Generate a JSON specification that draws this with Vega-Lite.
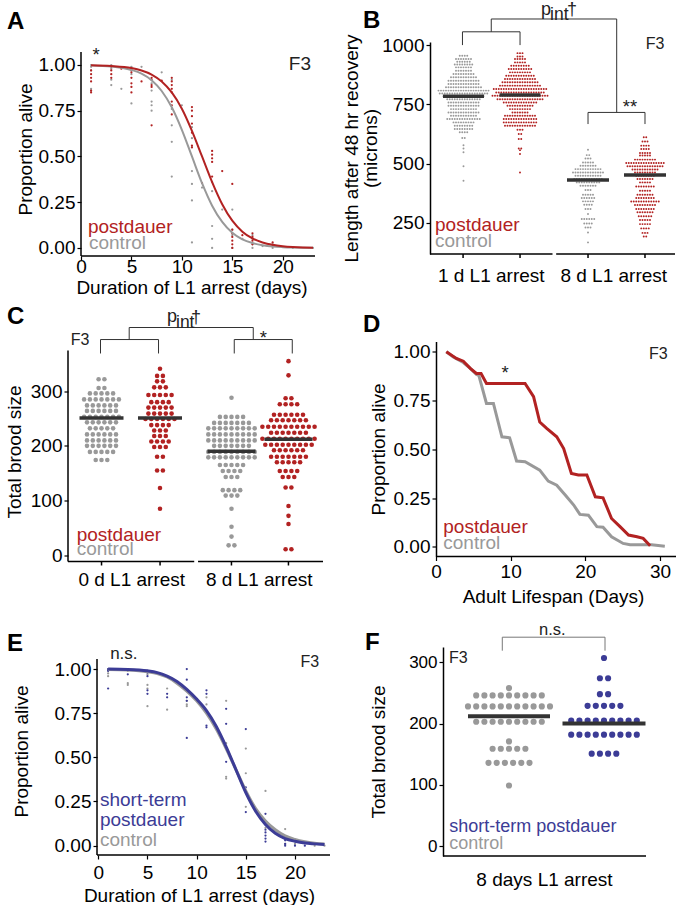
{
"$schema": "https://vega.github.io/schema/vega-lite/v6.json",
"padding": {"left": 5, "top": 0, "right": 0, "bottom": 0},
"config": {
  "view": {"stroke": null},
  "font": "Liberation Sans",
  "axis": {"grid": false, "domainColor": "#000", "domainWidth": 1.5, "tickColor": "#000", "tickWidth": 1.2, "tickSize": 4, "labelFontSize": 19, "titleFontSize": 19, "labelColor": "#000", "titleColor": "#000", "titleFontWeight": "normal", "labelPadding": 2, "labelFlush": false, "labelOverlap": false, "labelFont": "Liberation Sans", "titleFont": "Liberation Sans"},
  "text": {"font": "Liberation Sans"}
},
"columns": 2,
"spacing": {"row": 85.5, "column": 100},
"bounds": "flush",
"align": "each",
"concat": [
 {
  "width": 247, "height": 214,
  "encoding": {
    "x": {"field": "day", "type": "quantitative", "scale": {"domain": [-1.289, 23.2], "nice": false, "zero": false}, "axis": {"title": "Duration of L1 arrest (days)", "values": [0,5,10,15,20], "domain": false, "labelPadding": -3, "titlePadding": 2}},
    "y": {"field": "p", "type": "quantitative", "scale": {"domain": [-0.044, 1.1257], "nice": false, "zero": false}, "axis": {"title": "Proportion alive", "values": [0,0.25,0.5,0.75,1], "format": ".2f", "domain": false, "offset": -13, "titlePadding": 3}},
    "color": {"field": "grp", "type": "nominal", "scale": {"domain": ["control","postdauer","short-term","annot"], "range": ["#999999","#B22222","#3C3C96","#222222"]}, "legend": null}
  },
  "layer": [
    {"data": {"values": [{"day":0,"day2":0,"p":-0.044,"p2":1.071},{"day":0,"day2":23.2,"p":-0.044,"p2":-0.044}]},
     "mark": {"type": "rule", "strokeWidth": 1.5}, "encoding": {"x2": {"field": "day2"}, "y2": {"field": "p2"}, "color": {"value": "#000"}}},
    {"data": {"values": [
      {"grp":"control","day":1,"p":1.0},{"grp":"control","day":1,"p":0.99},{"grp":"control","day":1,"p":0.97},{"grp":"control","day":1,"p":0.87},{"grp":"control","day":1,"p":0.86},
      {"grp":"control","day":3,"p":1.0},{"grp":"control","day":3,"p":0.98},{"grp":"control","day":3,"p":0.92},{"grp":"control","day":3,"p":0.89},
      {"grp":"control","day":4,"p":0.87},
      {"grp":"control","day":5,"p":0.99},{"grp":"control","day":5,"p":0.97},{"grp":"control","day":5,"p":0.95},{"grp":"control","day":5,"p":0.79},
      {"grp":"control","day":6,"p":0.99},
      {"grp":"control","day":7,"p":0.9},{"grp":"control","day":7,"p":0.86},{"grp":"control","day":7,"p":0.8},{"grp":"control","day":7,"p":0.78},{"grp":"control","day":7,"p":0.75},
      {"grp":"control","day":8,"p":0.96},
      {"grp":"control","day":9,"p":0.92},{"grp":"control","day":9,"p":0.76},{"grp":"control","day":9,"p":0.67},{"grp":"control","day":9,"p":0.58},{"grp":"control","day":9,"p":0.39},
      {"grp":"control","day":10,"p":0.78},
      {"grp":"control","day":11,"p":0.66},{"grp":"control","day":11,"p":0.6},{"grp":"control","day":11,"p":0.55},{"grp":"control","day":11,"p":0.42},{"grp":"control","day":11,"p":0.35},{"grp":"control","day":11,"p":0.26},{"grp":"control","day":11,"p":0.03},
      {"grp":"control","day":12,"p":0.33},
      {"grp":"control","day":13,"p":0.36},{"grp":"control","day":13,"p":0.31},{"grp":"control","day":13,"p":0.12},{"grp":"control","day":13,"p":0.05},{"grp":"control","day":13,"p":0.0},
      {"grp":"control","day":14,"p":0.21},
      {"grp":"control","day":15,"p":0.21},{"grp":"control","day":15,"p":0.1},{"grp":"control","day":15,"p":0.07},{"grp":"control","day":15,"p":0.0},
      {"grp":"control","day":16,"p":0.05},
      {"grp":"control","day":17,"p":0.07},{"grp":"control","day":17,"p":0.05},{"grp":"control","day":17,"p":0.02},{"grp":"control","day":17,"p":0.0},
      {"grp":"control","day":18,"p":0.01},
      {"grp":"control","day":19,"p":0.02},{"grp":"control","day":19,"p":0.0},
      {"grp":"control","day":21,"p":0.0},{"grp":"control","day":23,"p":0.0},
      {"grp":"postdauer","day":1,"p":0.97},{"grp":"postdauer","day":1,"p":0.95},{"grp":"postdauer","day":1,"p":0.93},{"grp":"postdauer","day":1,"p":0.91},{"grp":"postdauer","day":1,"p":0.86},{"grp":"postdauer","day":1,"p":0.85},
      {"grp":"postdauer","day":3,"p":0.99},{"grp":"postdauer","day":3,"p":0.97},{"grp":"postdauer","day":3,"p":0.95},{"grp":"postdauer","day":3,"p":0.93},
      {"grp":"postdauer","day":4,"p":0.98},
      {"grp":"postdauer","day":5,"p":0.98},{"grp":"postdauer","day":5,"p":0.96},{"grp":"postdauer","day":5,"p":0.93},{"grp":"postdauer","day":5,"p":0.9},{"grp":"postdauer","day":5,"p":0.88},{"grp":"postdauer","day":5,"p":0.85},
      {"grp":"postdauer","day":6,"p":0.91},
      {"grp":"postdauer","day":7,"p":0.93},{"grp":"postdauer","day":7,"p":0.92},{"grp":"postdauer","day":7,"p":0.89},{"grp":"postdauer","day":7,"p":0.88},{"grp":"postdauer","day":7,"p":0.67},
      {"grp":"postdauer","day":8,"p":0.915},
      {"grp":"postdauer","day":9,"p":0.93},{"grp":"postdauer","day":9,"p":0.91},{"grp":"postdauer","day":9,"p":0.89},{"grp":"postdauer","day":9,"p":0.87},{"grp":"postdauer","day":9,"p":0.85},{"grp":"postdauer","day":9,"p":0.8},{"grp":"postdauer","day":9,"p":0.78},{"grp":"postdauer","day":9,"p":0.73},
      {"grp":"postdauer","day":11,"p":0.77},{"grp":"postdauer","day":11,"p":0.75},{"grp":"postdauer","day":11,"p":0.72},{"grp":"postdauer","day":11,"p":0.68},{"grp":"postdauer","day":11,"p":0.63},{"grp":"postdauer","day":11,"p":0.56},{"grp":"postdauer","day":11,"p":0.55},
      {"grp":"postdauer","day":12,"p":0.355},
      {"grp":"postdauer","day":13,"p":0.53},{"grp":"postdauer","day":13,"p":0.51},{"grp":"postdauer","day":13,"p":0.49},{"grp":"postdauer","day":13,"p":0.47},{"grp":"postdauer","day":13,"p":0.39},
      {"grp":"postdauer","day":14,"p":0.42},
      {"grp":"postdauer","day":15,"p":0.35},{"grp":"postdauer","day":15,"p":0.1},{"grp":"postdauer","day":15,"p":0.08},{"grp":"postdauer","day":15,"p":0.06},{"grp":"postdauer","day":15,"p":0.04},{"grp":"postdauer","day":15,"p":0.02},{"grp":"postdauer","day":15,"p":0.0},
      {"grp":"postdauer","day":16,"p":0.07},
      {"grp":"postdauer","day":17,"p":0.08},{"grp":"postdauer","day":17,"p":0.06},{"grp":"postdauer","day":17,"p":0.04},{"grp":"postdauer","day":17,"p":0.02},
      {"grp":"postdauer","day":19,"p":0.03},{"grp":"postdauer","day":19,"p":0.01}
    ]}, "mark": {"type": "circle", "size": 5, "opacity": 1}},
    {"data": {"values": [
      {"grp":"control","day":1,"p":0.9975},{"grp":"control","day":3,"p":0.992},{"grp":"control","day":5,"p":0.973},{"grp":"control","day":6,"p":0.953},{"grp":"control","day":7,"p":0.917},{"grp":"control","day":8,"p":0.858},{"grp":"control","day":9,"p":0.769},{"grp":"control","day":10,"p":0.646},{"grp":"control","day":11,"p":0.5},{"grp":"control","day":12,"p":0.354},{"grp":"control","day":13,"p":0.231},{"grp":"control","day":14,"p":0.142},{"grp":"control","day":15,"p":0.083},{"grp":"control","day":16,"p":0.047},{"grp":"control","day":17,"p":0.027},{"grp":"control","day":18,"p":0.015},{"grp":"control","day":19,"p":0.008},{"grp":"control","day":20,"p":0.0045},{"grp":"control","day":21,"p":0.0025},{"grp":"control","day":22,"p":0.0014},{"grp":"control","day":23,"p":0.0007},
      {"grp":"postdauer","day":1,"p":0.998},{"grp":"postdauer","day":3,"p":0.994},{"grp":"postdauer","day":5,"p":0.983},{"grp":"postdauer","day":6,"p":0.97},{"grp":"postdauer","day":7,"p":0.948},{"grp":"postdauer","day":8,"p":0.91},{"grp":"postdauer","day":9,"p":0.85},{"grp":"postdauer","day":10,"p":0.761},{"grp":"postdauer","day":11,"p":0.64},{"grp":"postdauer","day":12,"p":0.5},{"grp":"postdauer","day":13,"p":0.36},{"grp":"postdauer","day":14,"p":0.239},{"grp":"postdauer","day":15,"p":0.149},{"grp":"postdauer","day":16,"p":0.089},{"grp":"postdauer","day":17,"p":0.052},{"grp":"postdauer","day":18,"p":0.03},{"grp":"postdauer","day":19,"p":0.017},{"grp":"postdauer","day":20,"p":0.0096},{"grp":"postdauer","day":21,"p":0.0054},{"grp":"postdauer","day":22,"p":0.003},{"grp":"postdauer","day":23,"p":0.0017}
    ]}, "mark": {"type": "line", "strokeWidth": 2, "interpolate": "monotone"}},
    {"data": {"values": [{"day":0.69,"p":0.082,"t":"postdauer","grp":"postdauer"},{"day":0.79,"p":-0.005,"t":"control","grp":"control"}]},
     "mark": {"type": "text", "align": "left", "baseline": "alphabetic", "fontSize": 19}, "encoding": {"text": {"field": "t"}}},
    {"data": {"values": [{"day":1.5,"p":1.052,"t":"*","kind":"sig","grp":"annot"},{"day":21.7,"p":1.005,"t":"F3","kind":"tag","grp":"annot"}]},
     "mark": {"type": "text", "align": "center", "baseline": "middle"}, "encoding": {"text": {"field": "t"}, "size": {"field": "kind", "type": "nominal", "scale": {"domain": ["tag","sig","p","sub","ns","nsS","tagS"], "range": [19,16,17,11,15,12,17]}, "legend": null}}},
    {"data": {"values": [{"day":-7.337,"p":1.1968,"t":"A"}]},
     "mark": {"type": "text", "align": "left", "baseline": "alphabetic", "fontSize": 24, "fontWeight": "bold"}, "encoding": {"text": {"field": "t"}, "color": {"value": "#000"}}}
  ]
 },
 {
  "width": 245, "height": 212,
  "resolve": {"scale": {"x": "independent", "xOffset": "independent"}},
  "encoding": {
    "y": {"field": "data", "type": "quantitative", "scale": {"domain": [119, 1013], "nice": false, "zero": false}, "axis": {"title": ["Length after 48 hr recovery", "(microns)"], "values": [250,500,750,1000], "format": "d", "titlePadding": 1, "titleLineHeight": 19}}
  },
  "layer": [
    {"data": {"values": [955,955,955,955,941,941,941,941,941,941,941,930,930,930,930,930,930,918,918,918,918,918,918,918,918,906,906,906,906,906,906,906,892,892,892,892,892,892,892,878,878,878,878,878,878,878,878,878,864,864,864,864,864,864,864,864,864,864,864,850,850,850,850,850,850,850,850,850,850,850,850,850,836,836,836,836,836,836,836,836,836,836,836,836,836,822,822,822,822,822,822,822,822,822,822,822,822,822,822,822,808,808,808,808,808,808,808,808,808,808,808,808,808,808,808,808,808,808,808,808,808,796,796,796,796,796,796,796,796,796,796,796,796,796,796,796,796,796,796,796,796,784,784,784,784,784,784,784,784,784,784,784,784,784,784,784,784,784,772,772,772,772,772,772,772,772,772,772,772,772,772,772,758,758,758,758,758,758,758,758,758,758,758,758,758,744,744,744,744,744,744,744,744,744,744,744,744,744,730,730,730,730,730,730,730,730,730,730,730,716,716,716,716,716,716,716,716,716,716,716,716,716,702,702,702,702,702,702,702,702,702,702,702,688,688,688,688,688,688,688,688,688,688,688,688,688,688,674,674,674,674,674,674,674,674,674,660,660,660,660,660,660,660,660,646,646,646,646,646,646,646,646,632,632,632,632,608,608,578,564,548,489,428]},
     "transform": [{"joinaggregate": [{"op": "distinct", "field": "data", "as": "one"}], "groupby": ["data"]}, {"stack": "one", "groupby": ["data"], "offset": "center", "as": ["s0","s1"]}],
     "mark": {"type": "circle", "size": 3.8, "color": "#999999", "opacity": 1},
     "encoding": {
       "x": {"datum": "1 d L1 arrest", "type": "nominal", "scale": {"type": "band", "domain": ["1 d L1 arrest","8 d L1 arrest"], "paddingInner": 0, "paddingOuter": 0}, "axis": {"title": null, "ticks": false, "domain": false, "labelPadding": 12, "labelAngle": 0}},
       "xOffset": {"field": "s0", "type": "quantitative", "scale": {"domain": [-3.4, 45.6], "nice": false, "zero": false}}
     }},
    {"data": {"values": [{"data": 784}]}, "mark": {"type": "tick", "size": 41, "thickness": 3.5, "color": "#333333", "opacity": 1},
     "encoding": {
       "x": {"datum": "1 d L1 arrest", "type": "nominal", "scale": {"type": "band", "domain": ["1 d L1 arrest","8 d L1 arrest"], "paddingInner": 0, "paddingOuter": 0}, "axis": null},
       "xOffset": {"datum": -0.5, "type": "quantitative", "scale": {"domain": [-13.9, 35.1], "nice": false, "zero": false}}
     }},
    {"data": {"values": [966,966,966,952,952,952,941,941,941,941,941,927,927,927,927,927,913,913,913,913,913,913,913,913,899,899,899,899,899,899,899,899,899,899,885,885,885,885,885,885,885,885,885,871,871,871,871,871,871,871,871,871,871,871,871,857,857,857,857,857,857,857,857,857,857,857,857,857,843,843,843,843,843,843,843,843,843,843,843,843,843,843,843,829,829,829,829,829,829,829,829,829,829,829,829,829,829,829,829,829,815,815,815,815,815,815,815,815,815,815,815,815,815,815,815,815,815,815,815,815,815,815,800,800,800,800,800,800,800,800,800,800,800,800,800,800,800,800,800,800,800,800,786,786,786,786,786,786,786,786,786,786,786,786,786,786,786,786,786,786,786,786,786,786,786,772,772,772,772,772,772,772,772,772,772,772,772,772,772,772,772,772,772,772,758,758,758,758,758,758,758,758,758,758,758,758,758,758,744,744,744,744,744,744,744,744,744,744,744,730,730,730,730,730,730,730,730,730,716,716,716,716,716,716,716,702,702,702,702,702,702,702,702,702,702,702,702,702,688,688,688,688,688,688,688,688,688,688,688,688,688,688,674,674,674,674,674,674,674,674,674,674,674,674,674,674,660,660,660,660,660,660,660,660,660,660,660,660,660,643,643,643,625,625,604,604,564,564,557,541,463]},
     "transform": [{"joinaggregate": [{"op": "distinct", "field": "data", "as": "one"}], "groupby": ["data"]}, {"stack": "one", "groupby": ["data"], "offset": "center", "as": ["s0","s1"]}],
     "mark": {"type": "circle", "size": 3.8, "color": "#B22222", "opacity": 1},
     "encoding": {
       "x": {"datum": "1 d L1 arrest", "type": "nominal", "scale": {"type": "band", "domain": ["1 d L1 arrest","8 d L1 arrest"], "paddingInner": 0, "paddingOuter": 0}, "axis": null},
       "xOffset": {"field": "s0", "type": "quantitative", "scale": {"domain": [-25, 24], "nice": false, "zero": false}}
     }},
    {"data": {"values": [{"data": 789}]}, "mark": {"type": "tick", "size": 41, "thickness": 3.5, "color": "#333333", "opacity": 1},
     "encoding": {
       "x": {"datum": "1 d L1 arrest", "type": "nominal", "scale": {"type": "band", "domain": ["1 d L1 arrest","8 d L1 arrest"], "paddingInner": 0, "paddingOuter": 0}, "axis": null},
       "xOffset": {"datum": -0.5, "type": "quantitative", "scale": {"domain": [-36.5, 12.5], "nice": false, "zero": false}}
     }},
    {"data": {"values": [559,536,536,522,522,522,505,505,505,505,505,491,491,491,491,491,491,491,477,477,477,477,477,477,477,477,477,477,477,463,463,463,463,463,463,463,463,463,463,463,463,463,449,449,449,449,449,449,449,449,449,449,449,435,435,435,435,435,435,435,435,435,435,435,435,421,421,421,421,421,421,421,421,421,421,407,407,407,407,407,407,407,389,389,389,369,369,369,369,369,355,355,355,355,355,355,341,341,341,341,341,327,327,327,327,309,309,309,288,267,267,267,267,267,267,248,248,248,248,231,231,231,210,168]},
     "transform": [{"joinaggregate": [{"op": "distinct", "field": "data", "as": "one"}], "groupby": ["data"]}, {"stack": "one", "groupby": ["data"], "offset": "center", "as": ["s0","s1"]}],
     "mark": {"type": "circle", "size": 3.8, "color": "#999999", "opacity": 1},
     "encoding": {
       "x": {"datum": "8 d L1 arrest", "type": "nominal", "scale": {"type": "band", "domain": ["1 d L1 arrest","8 d L1 arrest"], "paddingInner": 0, "paddingOuter": 0}, "axis": null},
       "xOffset": {"field": "s0", "type": "quantitative", "scale": {"domain": [-8.2, 40.8], "nice": false, "zero": false}}
     }},
    {"data": {"values": [{"data": 431}]}, "mark": {"type": "tick", "size": 42, "thickness": 3.5, "color": "#333333", "opacity": 1},
     "encoding": {
       "x": {"datum": "8 d L1 arrest", "type": "nominal", "scale": {"type": "band", "domain": ["1 d L1 arrest","8 d L1 arrest"], "paddingInner": 0, "paddingOuter": 0}, "axis": null},
       "xOffset": {"datum": -0.5, "type": "quantitative", "scale": {"domain": [-14.7, 34.3], "nice": false, "zero": false}}
     }},
    {"data": {"values": [611,611,593,593,593,576,576,576,576,562,562,562,562,545,545,545,545,545,534,534,534,534,534,517,517,517,517,517,517,517,517,517,503,503,503,503,503,503,503,503,503,503,503,503,503,503,503,503,489,489,489,489,489,489,489,489,489,489,489,489,489,489,489,475,475,475,475,475,475,475,475,475,475,475,463,463,463,463,463,463,463,463,463,449,449,449,449,449,449,449,449,435,435,435,435,435,435,435,421,421,421,421,421,404,404,404,404,404,404,404,404,386,386,386,386,386,369,369,369,369,369,369,369,355,355,355,355,355,355,355,355,340,340,340,340,340,340,340,340,340,340,340,340,326,326,326,326,326,326,326,326,326,309,309,309,309,309,309,309,309,295,295,295,295,295,295,295,278,278,278,278,278,278,262,262,262,262,262,245,245,245,245,245,227,227,227,227,208,208,208,193,193]},
     "transform": [{"joinaggregate": [{"op": "distinct", "field": "data", "as": "one"}], "groupby": ["data"]}, {"stack": "one", "groupby": ["data"], "offset": "center", "as": ["s0","s1"]}],
     "mark": {"type": "circle", "size": 3.8, "color": "#B22222", "opacity": 1},
     "encoding": {
       "x": {"datum": "8 d L1 arrest", "type": "nominal", "scale": {"type": "band", "domain": ["1 d L1 arrest","8 d L1 arrest"], "paddingInner": 0, "paddingOuter": 0}, "axis": null},
       "xOffset": {"field": "s0", "type": "quantitative", "scale": {"domain": [-29.5, 19.5], "nice": false, "zero": false}}
     }},
    {"data": {"values": [{"data": 452}]}, "mark": {"type": "tick", "size": 42, "thickness": 3.5, "color": "#333333", "opacity": 1},
     "encoding": {
       "x": {"datum": "8 d L1 arrest", "type": "nominal", "scale": {"type": "band", "domain": ["1 d L1 arrest","8 d L1 arrest"], "paddingInner": 0, "paddingOuter": 0}, "axis": null},
       "xOffset": {"datum": -0.5, "type": "quantitative", "scale": {"domain": [-37.5, 11.5], "nice": false, "zero": false}}
     }},
    {"data": {"values": [{"x":0,"x2":1.0,"data":119,"v2":119},{"x":1.03,"x2":2,"data":119,"v2":119},{"x":0.27,"x2":0.27,"data":119,"v2":102},{"x":0.735,"x2":0.735,"data":119,"v2":102},{"x":1.29,"x2":1.29,"data":119,"v2":102},{"x":1.755,"x2":1.755,"data":119,"v2":102}]},
     "mark": {"type": "rule", "color": "#000", "strokeWidth": 1.5},
     "encoding": {"x": {"field": "x", "type": "quantitative", "scale": {"domain": [0, 2], "nice": false, "zero": false}, "axis": null}, "x2": {"field": "x2"}, "y2": {"field": "v2"}}},
    {"data": {"values": [{"x":0.265,"x2":0.265,"data":1000,"v2":1056},{"x":0.735,"x2":0.735,"data":1000,"v2":1056},{"x":0.265,"x2":0.735,"data":1056,"v2":1056},{"x":0.5,"x2":0.5,"data":1056,"v2":1110},{"x":0.5,"x2":1.524,"data":1110,"v2":1110},{"x":1.524,"x2":1.524,"data":1110,"v2":716},{"x":1.29,"x2":1.755,"data":716,"v2":716},{"x":1.29,"x2":1.29,"data":716,"v2":667},{"x":1.755,"x2":1.755,"data":716,"v2":667}]},
     "mark": {"type": "rule", "color": "#333", "strokeWidth": 1},
     "encoding": {"x": {"field": "x", "type": "quantitative", "scale": {"domain": [0, 2], "nice": false, "zero": false}, "axis": null}, "x2": {"field": "x2"}, "y2": {"field": "v2"}}},
    {"data": {"values": [{"x":0.041,"data":217,"t":"postdauer","grp":"postdauer"},{"x":0.041,"data":147,"t":"control","grp":"control"}]},
     "mark": {"type": "text", "align": "left", "baseline": "alphabetic", "fontSize": 19},
     "encoding": {"x": {"field": "x", "type": "quantitative", "scale": {"domain": [0, 2], "nice": false, "zero": false}, "axis": null}, "text": {"field": "t"}, "color": {"field": "grp", "type": "nominal", "scale": {"domain": ["control","postdauer","short-term","annot"], "range": ["#999999","#B22222","#3C3C96","#222222"]}, "legend": null}}},
    {"data": {"values": [{"x":1.837,"data":1004,"t":"F3","kind":"tagS"},{"x":1.633,"data":739,"t":"**","kind":"sig"}]},
     "mark": {"type": "text", "align": "center", "baseline": "middle", "color": "#222"},
     "encoding": {"x": {"field": "x", "type": "quantitative", "scale": {"domain": [0, 2], "nice": false, "zero": false}, "axis": null}, "text": {"field": "t"}, "size": {"field": "kind", "type": "nominal", "scale": {"domain": ["tag","sig","p","sub","ns","nsS","tagS"], "range": [19,16,17,11,15,12,17]}, "legend": null}}},
    {"data": {"values": [{"x":0.906,"data":1147,"t":"p","kind":"p"},{"x":0.98,"data":1128,"t":"int","kind":"sub"},{"x":1.118,"data":1149,"t":"†","kind":"p"}]},
     "mark": {"type": "text", "align": "left", "baseline": "middle", "color": "#222"},
     "encoding": {"x": {"field": "x", "type": "quantitative", "scale": {"domain": [0, 2], "nice": false, "zero": false}, "axis": null}, "text": {"field": "t"}, "size": {"field": "kind", "type": "nominal", "scale": {"domain": ["tag","sig","p","sub","ns","nsS","tagS"], "range": [19,16,17,11,15,12,17]}, "legend": null}}},
    {"data": {"values": [{"x":-0.547,"data":1072,"t":"B"}]},
     "mark": {"type": "text", "align": "left", "baseline": "alphabetic", "fontSize": 24, "fontWeight": "bold", "color": "#000"},
     "encoding": {"x": {"field": "x", "type": "quantitative", "scale": {"domain": [0, 2], "nice": false, "zero": false}, "axis": null}, "text": {"field": "t"}}}
  ]
 },
 {
  "width": 255, "height": 220,
  "resolve": {"scale": {"x": "independent", "xOffset": "independent"}},
  "encoding": {
    "y": {"field": "data", "type": "quantitative", "scale": {"domain": [-11.5, 390.9], "nice": false, "zero": false}, "axis": {"title": "Total brood size", "values": [0,100,200,300], "domain": false, "titlePadding": 6}}
  },
  "layer": [
    {"data": {"values": [322,322,306,306,296,296,296,296,296,285,285,285,285,285,285,285,274,274,274,274,274,274,264,264,264,264,264,264,253,253,253,253,253,253,253,243,243,243,243,243,243,232,232,232,232,232,221,221,221,221,221,221,210,210,210,210,210,210,200,200,200,200,200,200,189,189,189,189,189,174,174,174]},
     "transform": [{"joinaggregate": [{"op": "distinct", "field": "data", "as": "one"}], "groupby": ["data"]}, {"stack": "one", "groupby": ["data"], "offset": "center", "as": ["s0","s1"]}],
     "mark": {"type": "circle", "size": 21, "color": "#999999", "opacity": 1},
     "encoding": {
       "x": {"datum": "0 d L1 arrest", "type": "nominal", "scale": {"type": "band", "domain": ["0 d L1 arrest","8 d L1 arrest"], "paddingInner": 0, "paddingOuter": 0}, "axis": {"title": null, "ticks": false, "domain": false, "labelPadding": 9, "labelAngle": 0}},
       "xOffset": {"field": "s0", "type": "quantitative", "scale": {"domain": [-2.776, 19.207], "nice": false, "zero": false}}
     }},
    {"data": {"values": [{"data": 251}]}, "mark": {"type": "tick", "size": 44, "thickness": 3.5, "color": "#333333", "opacity": 1},
     "encoding": {
       "x": {"datum": "0 d L1 arrest", "type": "nominal", "scale": {"type": "band", "domain": ["0 d L1 arrest","8 d L1 arrest"], "paddingInner": 0, "paddingOuter": 0}, "axis": null},
       "xOffset": {"datum": -0.5, "type": "quantitative", "scale": {"domain": [-6.276, 15.707], "nice": false, "zero": false}}
     }},
    {"data": {"values": [341,328,328,318,318,307,307,307,293,293,293,293,293,280,280,280,280,270,270,270,270,270,259,259,259,259,259,249,249,249,249,249,249,238,238,238,238,228,228,228,218,218,218,208,208,208,208,198,198,198,180,180,155,155,123,85]},
     "transform": [{"joinaggregate": [{"op": "distinct", "field": "data", "as": "one"}], "groupby": ["data"]}, {"stack": "one", "groupby": ["data"], "offset": "center", "as": ["s0","s1"]}],
     "mark": {"type": "circle", "size": 21, "color": "#B22222", "opacity": 1},
     "encoding": {
       "x": {"datum": "0 d L1 arrest", "type": "nominal", "scale": {"type": "band", "domain": ["0 d L1 arrest","8 d L1 arrest"], "paddingInner": 0, "paddingOuter": 0}, "axis": null},
       "xOffset": {"field": "s0", "type": "quantitative", "scale": {"domain": [-13.362, 8.621], "nice": false, "zero": false}}
     }},
    {"data": {"values": [{"data": 251}]}, "mark": {"type": "tick", "size": 44, "thickness": 3.5, "color": "#333333", "opacity": 1},
     "encoding": {
       "x": {"datum": "0 d L1 arrest", "type": "nominal", "scale": {"type": "band", "domain": ["0 d L1 arrest","8 d L1 arrest"], "paddingInner": 0, "paddingOuter": 0}, "axis": null},
       "xOffset": {"datum": -0.5, "type": "quantitative", "scale": {"domain": [-16.362, 5.621], "nice": false, "zero": false}}
     }},
    {"data": {"values": [288,253,253,253,253,253,242,242,242,242,242,242,242,232,232,232,232,232,232,232,232,232,221,221,221,221,221,221,221,221,221,210,210,210,210,210,210,210,210,210,200,200,200,200,200,200,200,189,189,189,189,189,189,189,189,189,179,179,179,179,179,179,179,179,179,165,165,165,165,165,154,154,154,154,143,143,143,119,119,119,119,109,109,109,85,52,34,18,18]},
     "transform": [{"joinaggregate": [{"op": "distinct", "field": "data", "as": "one"}], "groupby": ["data"]}, {"stack": "one", "groupby": ["data"], "offset": "center", "as": ["s0","s1"]}],
     "mark": {"type": "circle", "size": 21, "color": "#999999", "opacity": 1},
     "encoding": {
       "x": {"datum": "8 d L1 arrest", "type": "nominal", "scale": {"type": "band", "domain": ["0 d L1 arrest","8 d L1 arrest"], "paddingInner": 0, "paddingOuter": 0}, "axis": null},
       "xOffset": {"field": "s0", "type": "quantitative", "scale": {"domain": [-2.207, 19.776], "nice": false, "zero": false}}
     }},
    {"data": {"values": [{"data": 190}]}, "mark": {"type": "tick", "size": 48, "thickness": 3.5, "color": "#333333", "opacity": 1},
     "encoding": {
       "x": {"datum": "8 d L1 arrest", "type": "nominal", "scale": {"type": "band", "domain": ["0 d L1 arrest","8 d L1 arrest"], "paddingInner": 0, "paddingOuter": 0}, "axis": null},
       "xOffset": {"datum": -0.5, "type": "quantitative", "scale": {"domain": [-6.707, 15.276], "nice": false, "zero": false}}
     }},
    {"data": {"values": [355,329,287,287,276,276,276,276,257,257,257,257,257,257,247,247,247,247,247,247,247,235,235,235,235,235,235,235,235,235,235,224,224,224,224,224,224,224,213,213,213,213,213,213,213,213,213,213,202,202,202,202,202,202,202,202,202,192,192,192,192,192,192,180,180,180,180,180,180,180,170,170,170,170,170,154,154,154,154,143,143,143,124,124,90,72,57,11,11]},
     "transform": [{"joinaggregate": [{"op": "distinct", "field": "data", "as": "one"}], "groupby": ["data"]}, {"stack": "one", "groupby": ["data"], "offset": "center", "as": ["s0","s1"]}],
     "mark": {"type": "circle", "size": 21, "color": "#B22222", "opacity": 1},
     "encoding": {
       "x": {"datum": "8 d L1 arrest", "type": "nominal", "scale": {"type": "band", "domain": ["0 d L1 arrest","8 d L1 arrest"], "paddingInner": 0, "paddingOuter": 0}, "axis": null},
       "xOffset": {"field": "s0", "type": "quantitative", "scale": {"domain": [-11.534, 10.448], "nice": false, "zero": false}}
     }},
    {"data": {"values": [{"data": 212}]}, "mark": {"type": "tick", "size": 48, "thickness": 3.5, "color": "#333333", "opacity": 1},
     "encoding": {
       "x": {"datum": "8 d L1 arrest", "type": "nominal", "scale": {"type": "band", "domain": ["0 d L1 arrest","8 d L1 arrest"], "paddingInner": 0, "paddingOuter": 0}, "axis": null},
       "xOffset": {"datum": -0.5, "type": "quantitative", "scale": {"domain": [-16.534, 5.448], "nice": false, "zero": false}}
     }},
    {"data": {"values": [{"x":0,"x2":0,"data":-11.5,"v2":374.4},{"x":0,"x2":0.99,"data":-11.5,"v2":-11.5},{"x":1.02,"x2":2,"data":-11.5,"v2":-11.5},{"x":0.263,"x2":0.263,"data":-11.5,"v2":-18.8},{"x":0.722,"x2":0.722,"data":-11.5,"v2":-18.8},{"x":1.282,"x2":1.282,"data":-11.5,"v2":-18.8},{"x":1.729,"x2":1.729,"data":-11.5,"v2":-18.8}]},
     "mark": {"type": "rule", "color": "#000", "strokeWidth": 1.5},
     "encoding": {"x": {"field": "x", "type": "quantitative", "scale": {"domain": [0, 2], "nice": false, "zero": false}, "axis": null}, "x2": {"field": "x2"}, "y2": {"field": "v2"}}},
    {"data": {"values": [{"x":0.255,"x2":0.255,"data":369,"v2":394.5},{"x":0.71,"x2":0.71,"data":369,"v2":394.5},{"x":0.255,"x2":0.71,"data":394.5,"v2":394.5},{"x":0.48,"x2":0.48,"data":394.5,"v2":416.5},{"x":0.48,"x2":1.453,"data":416.5,"v2":416.5},{"x":1.453,"x2":1.453,"data":416.5,"v2":394.5},{"x":1.304,"x2":1.759,"data":394.5,"v2":394.5},{"x":1.304,"x2":1.304,"data":394.5,"v2":369},{"x":1.759,"x2":1.759,"data":394.5,"v2":369}]},
     "mark": {"type": "rule", "color": "#333", "strokeWidth": 1},
     "encoding": {"x": {"field": "x", "type": "quantitative", "scale": {"domain": [0, 2], "nice": false, "zero": false}, "axis": null}, "x2": {"field": "x2"}, "y2": {"field": "v2"}}},
    {"data": {"values": [{"x":0.068,"data":26.3,"t":"postdauer","grp":"postdauer"},{"x":0.068,"data":0,"t":"control","grp":"control"}]},
     "mark": {"type": "text", "align": "left", "baseline": "alphabetic", "fontSize": 19},
     "encoding": {"x": {"field": "x", "type": "quantitative", "scale": {"domain": [0, 2], "nice": false, "zero": false}, "axis": null}, "text": {"field": "t"}, "color": {"field": "grp", "type": "nominal", "scale": {"domain": ["control","postdauer","short-term","annot"], "range": ["#999999","#B22222","#3C3C96","#222222"]}, "legend": null}}},
    {"data": {"values": [{"x":0.094,"data":393,"t":"F3","kind":"tagS"},{"x":1.532,"data":398,"t":"*","kind":"sig"}]},
     "mark": {"type": "text", "align": "center", "baseline": "middle", "color": "#222"},
     "encoding": {"x": {"field": "x", "type": "quantitative", "scale": {"domain": [0, 2], "nice": false, "zero": false}, "axis": null}, "text": {"field": "t"}, "size": {"field": "kind", "type": "nominal", "scale": {"domain": ["tag","sig","p","sub","ns","nsS","tagS"], "range": [19,16,17,11,15,12,17]}, "legend": null}}},
    {"data": {"values": [{"x":0.776,"data":436,"t":"p","kind":"p"},{"x":0.847,"data":425,"t":"int","kind":"sub"},{"x":0.965,"data":434,"t":"†","kind":"p"}]},
     "mark": {"type": "text", "align": "left", "baseline": "middle", "color": "#222"},
     "encoding": {"x": {"field": "x", "type": "quantitative", "scale": {"domain": [0, 2], "nice": false, "zero": false}, "axis": null}, "text": {"field": "t"}, "size": {"field": "kind", "type": "nominal", "scale": {"domain": ["tag","sig","p","sub","ns","nsS","tagS"], "range": [19,16,17,11,15,12,17]}, "legend": null}}},
    {"data": {"values": [{"x":-0.478,"data":423.8,"t":"C"}]},
     "mark": {"type": "text", "align": "left", "baseline": "alphabetic", "fontSize": 24, "fontWeight": "bold", "color": "#000"},
     "encoding": {"x": {"field": "x", "type": "quantitative", "scale": {"domain": [0, 2], "nice": false, "zero": false}, "axis": null}, "text": {"field": "t"}}}
  ]
 },
 {
  "width": 246, "height": 215,
  "encoding": {
    "x": {"field": "day", "type": "quantitative", "scale": {"domain": [-0.804, 32.15], "nice": false, "zero": false}, "axis": {"title": "Adult Lifespan (Days)", "values": [0,10,20,30], "domain": false, "labelPadding": 2, "titlePadding": 6}},
    "y": {"field": "p", "type": "quantitative", "scale": {"domain": [-0.05, 1.053], "nice": false, "zero": false}, "axis": {"title": "Proportion alive", "values": [0,0.25,0.5,0.75,1], "format": ".2f", "offset": -6, "titlePadding": 5}},
    "color": {"field": "grp", "type": "nominal", "scale": {"domain": ["control","postdauer","short-term","annot"], "range": ["#999999","#B22222","#3C3C96","#222222"]}, "legend": null}
  },
  "layer": [
    {"data": {"values": [{"day":0,"day2":32.15,"p":-0.05,"p2":-0.05}]},
     "mark": {"type": "rule", "strokeWidth": 1.5}, "encoding": {"x2": {"field": "day2"}, "y2": {"field": "p2"}, "color": {"value": "#000"}}},
    {"data": {"values": [
      {"grp":"control","day":1.383,"p":1.0},{"grp":"control","day":2.314,"p":0.974},{"grp":"control","day":3.659,"p":0.945},{"grp":"control","day":4.589,"p":0.915},{"grp":"control","day":5.417,"p":0.884},{"grp":"control","day":5.727,"p":0.88},{"grp":"control","day":6.761,"p":0.735},{"grp":"control","day":7.692,"p":0.735},{"grp":"control","day":8.83,"p":0.564},{"grp":"control","day":9.864,"p":0.559},{"grp":"control","day":10.795,"p":0.44},{"grp":"control","day":11.932,"p":0.436},{"grp":"control","day":13.897,"p":0.393},{"grp":"control","day":15.035,"p":0.337},{"grp":"control","day":16.173,"p":0.316},{"grp":"control","day":17.31,"p":0.265},{"grp":"control","day":18.448,"p":0.214},{"grp":"control","day":19.275,"p":0.166},{"grp":"control","day":20.413,"p":0.162},{"grp":"control","day":21.55,"p":0.103},{"grp":"control","day":22.378,"p":0.1},{"grp":"control","day":23.516,"p":0.051},{"grp":"control","day":25.067,"p":0.017},{"grp":"control","day":25.998,"p":0.01},{"grp":"control","day":28.893,"p":0.01},{"grp":"control","day":30.652,"p":0.003}
    ]}, "mark": {"type": "line", "strokeWidth": 3}},
    {"data": {"values": [
      {"grp":"postdauer","day":1.383,"p":1.0},{"grp":"postdauer","day":2.728,"p":0.966},{"grp":"postdauer","day":3.659,"p":0.952},{"grp":"postdauer","day":4.589,"p":0.915},{"grp":"postdauer","day":5.417,"p":0.889},{"grp":"postdauer","day":6.037,"p":0.889},{"grp":"postdauer","day":6.761,"p":0.838},{"grp":"postdauer","day":11.932,"p":0.838},{"grp":"postdauer","day":13.07,"p":0.77},{"grp":"postdauer","day":13.897,"p":0.64},{"grp":"postdauer","day":14.828,"p":0.607},{"grp":"postdauer","day":16.173,"p":0.564},{"grp":"postdauer","day":17.103,"p":0.504},{"grp":"postdauer","day":18.138,"p":0.376},{"grp":"postdauer","day":19.068,"p":0.368},{"grp":"postdauer","day":20.206,"p":0.368},{"grp":"postdauer","day":21.344,"p":0.256},{"grp":"postdauer","day":22.378,"p":0.251},{"grp":"postdauer","day":23.516,"p":0.145},{"grp":"postdauer","day":24.653,"p":0.103},{"grp":"postdauer","day":25.791,"p":0.06},{"grp":"postdauer","day":26.929,"p":0.051},{"grp":"postdauer","day":27.756,"p":0.043},{"grp":"postdauer","day":28.687,"p":0.005}
    ]}, "mark": {"type": "line", "strokeWidth": 3}},
    {"data": {"values": [{"day":0.97,"p":0.068,"t":"postdauer","grp":"postdauer"},{"day":0.97,"p":-0.009,"t":"control","grp":"control"}]},
     "mark": {"type": "text", "align": "left", "baseline": "alphabetic", "fontSize": 19}, "encoding": {"text": {"field": "t"}}},
    {"data": {"values": [{"day":9.243,"p":0.89,"t":"*","kind":"sig","grp":"annot"},{"day":29.783,"p":0.991,"t":"F3","kind":"tagS","grp":"annot"}]},
     "mark": {"type": "text", "align": "center", "baseline": "middle"}, "encoding": {"text": {"field": "t"}, "size": {"field": "kind", "type": "nominal", "scale": {"domain": ["tag","sig","p","sub","ns","nsS","tagS"], "range": [19,16,17,11,15,12,17]}, "legend": null}}},
    {"data": {"values": [{"day":-9.779,"p":1.1043,"t":"D"}]},
     "mark": {"type": "text", "align": "left", "baseline": "alphabetic", "fontSize": 24, "fontWeight": "bold"}, "encoding": {"text": {"field": "t"}, "color": {"value": "#000"}}}
  ]
 },
 {
  "width": 262, "height": 208,
  "encoding": {
    "x": {"field": "day", "type": "quantitative", "scale": {"domain": [-3.079, 23.56], "nice": false, "zero": false}, "axis": {"title": "Duration of L1 arrest (days)", "values": [0,5,10,15,20], "domain": false, "labelPadding": 4, "titlePadding": 4}},
    "y": {"field": "p", "type": "quantitative", "scale": {"domain": [-0.053, 1.125], "nice": false, "zero": false}, "axis": {"title": "Proportion alive", "values": [0,0.25,0.5,0.75,1], "format": ".2f", "domain": false, "offset": -29, "titlePadding": 23}},
    "color": {"field": "grp", "type": "nominal", "scale": {"domain": ["control","postdauer","short-term","annot"], "range": ["#999999","#B22222","#3C3C96","#222222"]}, "legend": null}
  },
  "layer": [
    {"data": {"values": [{"day":-0.13,"day2":-0.13,"p":-0.053,"p2":1.057},{"day":-0.13,"day2":23.56,"p":-0.053,"p2":-0.053}]},
     "mark": {"type": "rule", "strokeWidth": 1.5}, "encoding": {"x2": {"field": "day2"}, "y2": {"field": "p2"}, "color": {"value": "#000"}}},
    {"data": {"values": [
      {"grp":"control","day":1,"p":1.0},{"grp":"control","day":1,"p":0.99},{"grp":"control","day":1,"p":0.975},{"grp":"control","day":1,"p":0.96},
      {"grp":"control","day":3,"p":0.99},{"grp":"control","day":3,"p":0.92},{"grp":"control","day":3,"p":0.91},
      {"grp":"control","day":5,"p":0.99},{"grp":"control","day":5,"p":0.97},{"grp":"control","day":5,"p":0.91},{"grp":"control","day":5,"p":0.89},{"grp":"control","day":5,"p":0.79},
      {"grp":"control","day":7,"p":0.89},{"grp":"control","day":7,"p":0.77},
      {"grp":"control","day":9,"p":0.82},{"grp":"control","day":9,"p":0.8},{"grp":"control","day":9,"p":0.79},
      {"grp":"control","day":11,"p":0.84},{"grp":"control","day":11,"p":0.8},{"grp":"control","day":11,"p":0.76},
      {"grp":"control","day":13,"p":0.82},{"grp":"control","day":13,"p":0.58},{"grp":"control","day":13,"p":0.39},{"grp":"control","day":13,"p":0.38},
      {"grp":"control","day":15,"p":0.55},{"grp":"control","day":15,"p":0.41},{"grp":"control","day":15,"p":0.22},
      {"grp":"control","day":17,"p":0.31},{"grp":"control","day":17,"p":0.1},
      {"grp":"control","day":19,"p":0.094},{"grp":"control","day":19,"p":0.04},{"grp":"control","day":19,"p":0.01},
      {"grp":"control","day":20,"p":0.01},{"grp":"control","day":22,"p":0.0},{"grp":"control","day":23,"p":0.0},
      {"grp":"short-term","day":1,"p":1.0},{"grp":"short-term","day":1,"p":0.99},{"grp":"short-term","day":1,"p":0.89},
      {"grp":"short-term","day":3,"p":1.0},{"grp":"short-term","day":3,"p":0.97},
      {"grp":"short-term","day":5,"p":0.98},{"grp":"short-term","day":5,"p":0.96},{"grp":"short-term","day":5,"p":0.88},{"grp":"short-term","day":5,"p":0.86},
      {"grp":"short-term","day":7,"p":0.86},{"grp":"short-term","day":7,"p":0.84},
      {"grp":"short-term","day":9,"p":1.0},{"grp":"short-term","day":9,"p":0.94},{"grp":"short-term","day":9,"p":0.84},{"grp":"short-term","day":9,"p":0.82},{"grp":"short-term","day":9,"p":0.61},
      {"grp":"short-term","day":11,"p":0.88},{"grp":"short-term","day":11,"p":0.86},{"grp":"short-term","day":11,"p":0.68},{"grp":"short-term","day":11,"p":0.67},
      {"grp":"short-term","day":13,"p":0.775},{"grp":"short-term","day":13,"p":0.69},{"grp":"short-term","day":13,"p":0.475},
      {"grp":"short-term","day":15,"p":0.66},{"grp":"short-term","day":15,"p":0.33},{"grp":"short-term","day":15,"p":0.19},
      {"grp":"short-term","day":17,"p":0.18},{"grp":"short-term","day":17,"p":0.09},{"grp":"short-term","day":17,"p":0.075},{"grp":"short-term","day":17,"p":0.057},{"grp":"short-term","day":17,"p":0.04},{"grp":"short-term","day":17,"p":0.023},
      {"grp":"short-term","day":19,"p":0.03},{"grp":"short-term","day":19,"p":0.01},{"grp":"short-term","day":19,"p":0.0},
      {"grp":"short-term","day":20,"p":0.0},{"grp":"short-term","day":21,"p":0.0}
    ]}, "mark": {"type": "circle", "size": 5, "opacity": 1}},
    {"data": {"values": [
      {"grp":"control","day":1,"p":0.998},{"grp":"control","day":3,"p":0.995},{"grp":"control","day":5,"p":0.985},{"grp":"control","day":6,"p":0.975},{"grp":"control","day":7,"p":0.955},{"grp":"control","day":8,"p":0.92},{"grp":"control","day":9,"p":0.875},{"grp":"control","day":10,"p":0.82},{"grp":"control","day":11,"p":0.75},{"grp":"control","day":12,"p":0.66},{"grp":"control","day":13,"p":0.55},{"grp":"control","day":14,"p":0.43},{"grp":"control","day":15,"p":0.31},{"grp":"control","day":16,"p":0.21},{"grp":"control","day":17,"p":0.14},{"grp":"control","day":18,"p":0.09},{"grp":"control","day":19,"p":0.055},{"grp":"control","day":20,"p":0.035},{"grp":"control","day":21,"p":0.022},{"grp":"control","day":22,"p":0.014},{"grp":"control","day":23,"p":0.009}
    ]}, "mark": {"type": "line", "strokeWidth": 3, "interpolate": "monotone"}},
    {"data": {"values": [
      {"grp":"short-term","day":1,"p":1.0},{"grp":"short-term","day":3,"p":0.998},{"grp":"short-term","day":5,"p":0.99},{"grp":"short-term","day":6,"p":0.98},{"grp":"short-term","day":7,"p":0.96},{"grp":"short-term","day":8,"p":0.93},{"grp":"short-term","day":9,"p":0.885},{"grp":"short-term","day":10,"p":0.83},{"grp":"short-term","day":11,"p":0.765},{"grp":"short-term","day":12,"p":0.675},{"grp":"short-term","day":13,"p":0.56},{"grp":"short-term","day":14,"p":0.43},{"grp":"short-term","day":15,"p":0.3},{"grp":"short-term","day":16,"p":0.195},{"grp":"short-term","day":17,"p":0.12},{"grp":"short-term","day":18,"p":0.07},{"grp":"short-term","day":19,"p":0.04},{"grp":"short-term","day":20,"p":0.025},{"grp":"short-term","day":21,"p":0.015},{"grp":"short-term","day":22,"p":0.01},{"grp":"short-term","day":23,"p":0.006}
    ]}, "mark": {"type": "line", "strokeWidth": 3, "interpolate": "monotone"}},
    {"data": {"values": [{"day":0.17,"p":0.223,"t":"short-term","grp":"short-term"},{"day":0.17,"p":0.113,"t":"postdauer","grp":"short-term"},{"day":0.17,"p":0.0,"t":"control","grp":"control"}]},
     "mark": {"type": "text", "align": "left", "baseline": "alphabetic", "fontSize": 19}, "encoding": {"text": {"field": "t"}}},
    {"data": {"values": [{"day":2.6,"p":1.085,"t":"n.s.","kind":"ns","grp":"annot"},{"day":21.5,"p":1.038,"t":"F3","kind":"tagS","grp":"annot"}]},
     "mark": {"type": "text", "align": "center", "baseline": "middle"}, "encoding": {"text": {"field": "t"}, "size": {"field": "kind", "type": "nominal", "scale": {"domain": ["tag","sig","p","sub","ns","nsS","tagS"], "range": [19,16,17,11,15,12,17]}, "legend": null}}},
    {"data": {"values": [{"day":-9.281,"p":1.1023,"t":"E"}]},
     "mark": {"type": "text", "align": "left", "baseline": "alphabetic", "fontSize": 24, "fontWeight": "bold"}, "encoding": {"text": {"field": "t"}, "color": {"value": "#000"}}}
  ]
 },
 {
  "width": 216, "height": 209,
  "resolve": {"scale": {"x": "independent", "xOffset": "independent"}},
  "encoding": {
    "y": {"field": "data", "type": "quantitative", "scale": {"domain": [-16, 325], "nice": false, "zero": false}, "axis": {"title": "Total brood size", "values": [0,100,200,300], "labelFontSize": 17, "offset": -13, "titlePadding": 20}}
  },
  "layer": [
    {"data": {"values": [258,246,246,246,246,246,246,246,246,246,228,228,228,228,228,228,228,228,228,228,228,203,203,203,203,203,203,203,203,203,171,159,159,159,159,159,136,136,136,136,136,136,99]},
     "transform": [{"joinaggregate": [{"op": "distinct", "field": "data", "as": "one"}], "groupby": ["data"]}, {"stack": "one", "groupby": ["data"], "offset": "center", "as": ["s0","s1"]}],
     "mark": {"type": "circle", "size": 38, "color": "#999999", "opacity": 1},
     "encoding": {
       "x": {"datum": "8 days L1 arrest", "type": "nominal", "scale": {"type": "band", "domain": ["8 days L1 arrest"], "paddingInner": 0, "paddingOuter": 0.032, "align": 1}, "axis": {"title": null, "ticks": false, "domain": false, "labelPadding": 14, "labelAngle": 0}},
       "xOffset": {"field": "s0", "type": "quantitative", "scale": {"domain": [-3.049, 21.707], "nice": false, "zero": false}}
     }},
    {"data": {"values": [{"data": 212}]}, "mark": {"type": "tick", "size": 82, "thickness": 4, "color": "#333333", "opacity": 1},
     "encoding": {
       "x": {"datum": "8 days L1 arrest", "type": "nominal", "scale": {"type": "band", "domain": ["8 days L1 arrest"], "paddingInner": 0, "paddingOuter": 0.032, "align": 1}, "axis": null},
       "xOffset": {"datum": -0.5, "type": "quantitative", "scale": {"domain": [-8.549, 16.207], "nice": false, "zero": false}}
     }},
    {"data": {"values": [307,274,274,248,248,229,229,229,229,229,205,205,205,205,205,205,205,205,205,182,182,182,182,182,182,182,182,182,151,151,151,151]},
     "transform": [{"joinaggregate": [{"op": "distinct", "field": "data", "as": "one"}], "groupby": ["data"]}, {"stack": "one", "groupby": ["data"], "offset": "center", "as": ["s0","s1"]}],
     "mark": {"type": "circle", "size": 38, "color": "#3C3C96", "opacity": 1},
     "encoding": {
       "x": {"datum": "8 days L1 arrest", "type": "nominal", "scale": {"type": "band", "domain": ["8 days L1 arrest"], "paddingInner": 0, "paddingOuter": 0.032, "align": 1}, "axis": null},
       "xOffset": {"field": "s0", "type": "quantitative", "scale": {"domain": [-15.634, 9.122], "nice": false, "zero": false}}
     }},
    {"data": {"values": [{"data": 200}]}, "mark": {"type": "tick", "size": 83, "thickness": 4, "color": "#333333", "opacity": 1},
     "encoding": {
       "x": {"datum": "8 days L1 arrest", "type": "nominal", "scale": {"type": "band", "domain": ["8 days L1 arrest"], "paddingInner": 0, "paddingOuter": 0.032, "align": 1}, "axis": null},
       "xOffset": {"datum": -0.5, "type": "quantitative", "scale": {"domain": [-20.134, 4.622], "nice": false, "zero": false}}
     }},
    {"data": {"values": [{"x":0.0602,"x2":1,"data":-16,"v2":-16}]},
     "mark": {"type": "rule", "color": "#000", "strokeWidth": 1.5},
     "encoding": {"x": {"field": "x", "type": "quantitative", "scale": {"domain": [0, 1], "nice": false, "zero": false}, "axis": null}, "x2": {"field": "x2"}, "y2": {"field": "v2"}}},
    {"data": {"values": [{"x":0.3347,"x2":0.3347,"data":319,"v2":341},{"x":0.8102,"x2":0.8102,"data":319,"v2":341},{"x":0.3347,"x2":0.8102,"data":341,"v2":341}]},
     "mark": {"type": "rule", "color": "#777", "strokeWidth": 1},
     "encoding": {"x": {"field": "x", "type": "quantitative", "scale": {"domain": [0, 1], "nice": false, "zero": false}, "axis": null}, "x2": {"field": "x2"}, "y2": {"field": "v2"}}},
    {"data": {"values": [{"x":0.0894,"data":22.8,"t":"short-term postdauer","grp":"short-term"},{"x":0.0894,"data":-4.4,"t":"control","grp":"control"}]},
     "mark": {"type": "text", "align": "left", "baseline": "alphabetic", "fontSize": 18},
     "encoding": {"x": {"field": "x", "type": "quantitative", "scale": {"domain": [0, 1], "nice": false, "zero": false}, "axis": null}, "text": {"field": "t"}, "color": {"field": "grp", "type": "nominal", "scale": {"domain": ["control","postdauer","short-term","annot"], "range": ["#999999","#B22222","#3C3C96","#222222"]}, "legend": null}}},
    {"data": {"values": [{"x":0.5662,"data":352,"t":"n.s.","kind":"nsS"},{"x":0.131,"data":307,"t":"F3","kind":"tagS"}]},
     "mark": {"type": "text", "align": "center", "baseline": "middle", "color": "#222"},
     "encoding": {"x": {"field": "x", "type": "quantitative", "scale": {"domain": [0, 1], "nice": false, "zero": false}, "axis": null}, "text": {"field": "t"}, "size": {"field": "kind", "type": "nominal", "scale": {"domain": ["tag","sig","p","sub","ns","nsS","tagS"], "range": [19,16,17,11,15,12,17]}, "legend": null}}},
    {"data": {"values": [{"x":-0.3009,"data":320.1,"t":"F"}]},
     "mark": {"type": "text", "align": "left", "baseline": "alphabetic", "fontSize": 24, "fontWeight": "bold", "color": "#000"},
     "encoding": {"x": {"field": "x", "type": "quantitative", "scale": {"domain": [0, 1], "nice": false, "zero": false}, "axis": null}, "text": {"field": "t"}}}
  ]
 }
]
}
